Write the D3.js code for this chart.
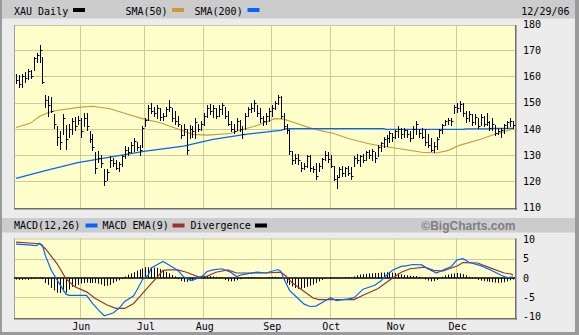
<!DOCTYPE html>
<html><head><meta charset="utf-8">
<script src="https://cdn.jsdelivr.net/npm/d3@7"></script>
<style>body{margin:0;background:#ececec}svg{display:block}</style>
</head><body><svg id="c" width="579" height="335"></svg>
<script>
// ---------- DATA ----------
const monthNames = ["May","Jun","Jul","Aug","Sep","Oct","Nov","Dec"];
const monthNums  = ["05","06","07","08","09","10","11","12"];
const tradingDays = [
 [1,2,3,4,5,8,9,10,11,12,15,16,17,18,19,22,23,24,25,26,30,31],
 [1,2,5,6,7,8,9,12,13,14,15,16,19,20,21,22,23,26,27,28,29,30],
 [3,5,6,7,10,11,12,13,14,17,18,19,20,21,24,25,26,27,28,31],
 [1,2,3,4,7,8,9,10,11,14,15,16,17,18,21,22,23,24,25,28,29,30,31],
 [1,5,6,7,8,11,12,13,14,15,18,19,20,21,22,25,26,27,28,29],
 [2,3,4,5,6,9,10,11,12,13,16,17,18,19,20,23,24,25,26,27,30,31],
 [1,2,3,6,7,8,9,10,13,14,15,16,17,20,21,22,24,27,28,29,30],
 [1,4,5,6,7,8,11,12,13,14,15,18,19,20,21,22,26,27,28,29]
];
const high = [
 161,160.5,161,161.5,163,162.5,167.5,169,172,167.5,153,152.5,152,145.5,141,139,145.5,141.5,142,144,144.5,145,
 144,146,146,139,138,131,131.5,130,124.5,124.5,129.5,129,128,127.5,130,133.5,133,135,136.5,135,134,141,
 144,149,150,148.5,149,148,146,148.5,151,148,147,145,141.6,142,140,141.6,141,144,142,143,
 146,149,149.5,149,148,149,150,148.5,147,143,142,144,143.5,141,146,148.5,150,151,149,148,145,146,148,
 149,150.5,153,152.5,146,142,140,131.5,130.5,130.5,127.5,127,130,130,126,127,127,129,131.5,131,
 130,126,122.5,125.5,126,125.5,126,125.5,129.5,130.5,130,130.5,131.5,132,132.5,131,134,135,137,137.5,139,138.5,
 139.5,141,140.5,140.5,139.5,139,141,143,140,140.5,140,138,136.5,135,137,140,142,143.5,144,144,149,
 150,150.5,150,147,147,145.5,145.5,144,145.5,145,146,143,144,141.5,140.5,140.5,142,143,144,143
];
const low = [
 157.5,156,156,158,159,159.5,162.5,165.5,165.5,157.5,148.5,145,146.5,140.5,134,132.5,138,132.5,137,138,139.5,142,
 137,141,139.5,135,132,123,127.5,125.5,118.5,120.5,125.5,126,124.5,124,126,129,130,131,131.5,132,130,133,
 141,143.5,146,145,144,143.5,143.5,145,146.7,143,142,141,136.5,137.5,130.5,136.5,137,136.5,139,139.5,
 141.5,144.5,145.5,144.5,144,145,145.5,144,141.5,139,138.5,139.5,139,136.5,140,145,146.5,147,145,142.5,141.5,142,143,
 145,147.5,149.5,144,140,138.5,130.5,126.5,127,126.5,124,124.5,125.5,124,123.5,121,124,125,128,127.5,
 125.5,120.5,117.5,121.5,122,122,122.5,121,126,127,126,127.5,128,129,128,127.5,129.5,131.5,133,133.5,135,135.5,
 136.5,137,136.5,137,137,135.5,136.5,138,137,136.5,134,133,131.5,131,132.5,137,138.5,141.5,142,141.5,146,
 146.5,147,145,142.5,143,141.5,142,140.5,141.5,141,141.5,139.5,139.5,137.5,138,137,138.5,140.5,141,140.5
];
const close = [
 158.5,157,160,159.5,162,160,167,168,170,158,151,149,147,142,137,135,144,136,140,143,141,143.5,
 139,144,141,136,133,125,129,127,120,123.5,128,127,125,126.5,129.5,132,131,134,135.5,133,132,140.5,
 143.5,148,147,146,148,144.5,145,147.5,148.5,144,143,142,137.5,140,132,140,139,142.5,140,142,
 145,148,147,148,145,147.5,149,145,142,140,139,143,140,138,145,147.5,148,150,146,144,143,145,147,
 148,150,152,145,141,139.5,131.5,128,129,128,125,126,129.5,125,124.5,122,126,128.5,130,128.5,
 126,121,121.5,124.5,123,125,123,122,129,128,129.5,128,131,130,131.5,129,133,134.5,136,136.5,138.5,137,
 139,140,138,139.5,138,136.5,140,142,138.5,137,135,134,132,133.5,136,139.5,141.5,143,143.5,143,148.5,
 148,149.5,146,144,145.5,142.5,144.5,141,144.5,142,142.5,140.5,142,138.5,139,139.5,141.5,142.5,143,141.5
];
// moving averages at these trading-day positions
const sma50Day = [0,5,8,12,15,22,26,32,38,43,49,56,60,65,73,76,82,88,91,95,101,108,113,120,127,131,138,143,147,151,158,163,169];
const sma50Val = [140.5,142.2,144.8,146.6,147.2,148.3,148.6,147.7,145.6,143.9,142.3,139.6,137.9,137.6,138.2,139.4,141.3,143.9,143.7,142.2,140,138.2,136.3,134.3,133,132.3,131.1,130.8,131.8,133.8,136,138,139.9];
const sma200Day = [0,10,21,33,44,57,67,78,90,92,125,126,152,153,161,162,169];
const sma200Val = [121.1,124.1,127.1,129.4,131.5,133.4,136,137.9,139.4,140.1,140.1,139.8,139.8,140,140,140.2,140.2];
const macdDay = [0,4,7,8,9,10,12,15,17,18,24,26,28,30,33,35,37,40,41,43,45,46,49,50,52,55,57,59,60,63,65,67,70,73,75,77,82,85,89,90,91,93,96,98,100,102,105,107,109,113,115,118,122,124,126,128,131,133,135,138,140,143,145,148,150,152,154,158,161,165,167,169];
const macdVal = [8.8,8.6,8.4,9.0,8.5,5.8,2.0,-1.8,-4.2,-4.5,-4.5,-6.6,-8.3,-9.8,-9.1,-7.9,-6.1,-4.6,-3.3,-0.4,0.8,2.6,3.9,4.3,3.4,2.0,0.3,-0.5,-0.6,0.3,1.7,2.1,2.4,1.5,0.4,0.9,1.5,1.3,2.2,1.8,0,-3.2,-5.4,-6.8,-7.4,-7.3,-6.0,-5.1,-5.9,-5.4,-5.1,-2.9,-1.9,-0.8,0.7,2.0,3.0,3.2,3.5,3.4,2.4,1.3,2.0,3.0,4.7,5.0,4.1,3.2,2.2,0.7,0.1,0.3];
const emaDay = [0,8,10,14,17,20,24,27,31,34,37,40,42,45,47,50,52,55,58,62,65,68,72,75,81,85,90,92,93,94,98,101,103,113,115,118,123,127,131,134,139,142,145,150,152,157,161,166,168,169];
const emaVal = [9.3,8.9,7.6,3.7,-0.2,-2.3,-3.6,-5.3,-7.0,-7.9,-7.9,-6.6,-4.9,-2.3,-0.6,2.0,2.1,2.1,1.5,0.3,0.5,1.5,2.1,1.3,1.3,1.3,1.5,0.4,-0.6,-1.3,-3.5,-5.2,-5.6,-5.6,-5.6,-4.5,-2.8,-0.6,1.5,2.4,2.8,2.0,1.8,3.1,4.0,3.9,2.7,1.3,1.1,0.8];
const divergence = [
 -0.4,-0.5,-0.5,-0.4,-0.5,-0.3,-0.2,0.1,0.2,-0.3,
 -1.3,-1.8,-2.6,-3.2,-3.8,-3.9,-3.5,-3.8,
 -3.0,-2.3,-2.2,-1.8,-1.4,
 -1.3,-1.2,-1.3,-1.3,-1.3,-1.5,-1.7,-2.1,
 -2.0,-1.8,-1.3,-0.9,-0.6,-0.2,
 0.4,0.9,1.2,1.5,1.9,2.2,2.5,2.8,2.8,2.8,2.7,
 2.6,2.3,2.0,1.6,1.2,0.8,0.4,
 -0.3,-0.8,-1.0,-1.0,-0.8,-0.5,-0.2,
 0.1,0.3,0.4,0.5,0.5,0.4,0.3,0.2,0.1,
 -0.5,-0.8,-0.9,-0.8,-0.6,-0.3,
 -0.1,0.1,0.2,0.3,0.2,0.1,0.1,0.0,0.1,0.2,0.3,0.3,0.2,0.1,
 -0.6,-1.3,-1.8,-2.2,-2.6,-2.8,-2.8,-2.6,-2.3,-2.0,-1.7,-1.3,-0.9,-0.5,
 -0.2,0.0,0.2,0.1,-0.2,0.1,0.1,0.2,0.2,
 0.2,0.4,0.7,0.9,1.0,1.1,1.2,1.2,1.3,1.3,1.4,1.4,1.5,1.5,1.4,1.3,1.2,1.0,0.8,0.7,0.6,0.5,0.5,0.3,0.0,-0.4,-0.7,-0.9,-0.8,-0.5,-0.1,0.3,0.7,0.9,1.1,1.2,1.3,1.2,1.0,0.7,0.3,0.1,-0.2,-0.5,-0.7,-0.8,-0.9,-1.0,-1.1,-1.2,-1.3,-1.2,-1.1,-0.9,-0.6,-0.4
];
const priceTicks = [110,120,130,140,150,160,170,180];
const macdTicks = [-10,-5,0,5,10];
const lastDateLabel = "12/29/06";

// ---------- BUILD ----------
const dates = [];
const monthStart = [];
tradingDays.forEach((days, m) => {
  monthStart.push(dates.length);
  days.forEach(d => dates.push("2006-" + monthNums[m] + "-" + String(d).padStart(2, "0")));
});
const bars = dates.map((d, i) => ({date: d, h: high[i], l: low[i], c: close[i], dv: divergence[i]}));

const svg = d3.select("#c");
const mono = "DejaVu Sans Mono, monospace";
const L = 14, R = 515;
const x = d3.scalePoint().domain(dates).range([16, 513]);
const yP = d3.scaleLinear().domain([110, 180]).range([207.5, 24]);
const yM = d3.scaleLinear().domain([-10, 10]).range([316.5, 239.5]);
const px = d => Math.round(x(d)) + 0.5;

// frame
svg.append("rect").attr("x",0).attr("y",0).attr("width",579).attr("height",335).attr("fill","#ececec");
svg.append("rect").attr("x",0).attr("y",0).attr("width",2).attr("height",335).attr("fill","#9a9a9a");
svg.append("rect").attr("x",575).attr("y",0).attr("width",4).attr("height",335).attr("fill","#9a9a9a");
svg.append("rect").attr("x",0).attr("y",332).attr("width",579).attr("height",3).attr("fill","#9a9a9a");
// header bands
svg.append("rect").attr("x",2).attr("y",0).attr("width",573).attr("height",18.5).attr("fill","#cccccc");
svg.append("rect").attr("x",2).attr("y",218).attr("width",573).attr("height",14.5).attr("fill","#cccccc");

// legend texts
function txt(t, xx, yy, opts = {}) {
  return svg.append("text").attr("x", xx).attr("y", yy).text(t)
    .attr("font-family", opts.family || mono).attr("font-size", opts.size || 10)
    .attr("fill", opts.fill || "#000").attr("text-anchor", opts.anchor || "start")
    .attr("font-weight", opts.weight || "normal");
}
function swatch(xx, yy, col) {
  svg.append("rect").attr("x", xx).attr("y", yy).attr("width", 12).attr("height", 4).attr("fill", col);
}
txt("XAU Daily", 14, 14.5); swatch(73, 8, "#000");
txt("SMA(50)", 125.5, 14.5); swatch(172, 8, "#cc9933");
txt("SMA(200)", 194.5, 14.5); swatch(247.5, 8, "#0066ff");
txt(lastDateLabel, 569.5, 14.5, {anchor: "end"});

txt("MACD(12,26)", 14, 229); swatch(85.5, 223.5, "#0066ff");
txt("MACD EMA(9)", 102.5, 229); swatch(172.5, 223.5, "#993333");
txt("Divergence", 190.5, 229); swatch(255, 223.5, "#000");
txt("\u00a9BigCharts.com", 515.5, 229.5, {family: "Liberation Sans, Arial, sans-serif", size: 12, weight: "bold", fill: "#7f7f7f", anchor: "end"});

// plot panels
function panel(y0, y1) {
  svg.append("rect").attr("x", L).attr("y", y0).attr("width", R - L).attr("height", y1 - y0).attr("fill", "#ffffcc");
}
panel(25, 208);
panel(238.5, 318);

const grid = "#cccc99";
const gx = monthStart.slice(1).map(i => Math.round(x(dates[i])) - 0.5);
// vertical gridlines
[[25, 208], [238.5, 318]].forEach(([a, b]) => {
  svg.append("g").selectAll("line").data(gx).join("line")
    .attr("x1", d => d).attr("x2", d => d).attr("y1", a).attr("y2", b)
    .attr("stroke", grid).attr("stroke-width", 1);
});
// horizontal gridlines
svg.append("g").selectAll("line").data(priceTicks.filter(t => t > 110 && t < 180)).join("line")
  .attr("x1", L).attr("x2", R).attr("y1", d => Math.round(yP(d)) + 0.5).attr("y2", d => Math.round(yP(d)) + 0.5)
  .attr("stroke", grid);
svg.append("g").selectAll("line").data([-5, 5]).join("line")
  .attr("x1", L).attr("x2", R).attr("y1", d => Math.round(yM(d)) + 0.5).attr("y2", d => Math.round(yM(d)) + 0.5)
  .attr("stroke", grid);

// panel borders (3D style)
function borders(y0, y1) {
  svg.append("line").attr("x1", L).attr("x2", R).attr("y1", y0 + 0.5).attr("y2", y0 + 0.5).attr("stroke", "#c8c8a0");
  svg.append("line").attr("x1", L + 0.5).attr("x2", L + 0.5).attr("y1", y0).attr("y2", y1).attr("stroke", "#a0a0a0");
  svg.append("rect").attr("x", L).attr("y", y1).attr("width", R - L + 2).attr("height", 1.5).attr("fill", "#6e6e6e");
  svg.append("rect").attr("x", R).attr("y", y0).attr("width", 1.5).attr("height", y1 - y0 + 1.5).attr("fill", "#6e6e6e");
}
borders(25, 208);
borders(238.5, 318);

// moving averages
const lineP = d3.line().x(d => x(dates[d[0]])).y(d => yP(d[1]));
svg.append("path").attr("d", lineP(sma50Day.map((d, i) => [d, sma50Val[i]])))
  .attr("fill", "none").attr("stroke", "#cc9933").attr("stroke-width", 1.1);
svg.append("path").attr("d", lineP(sma200Day.map((d, i) => [d, sma200Val[i]])))
  .attr("fill", "none").attr("stroke", "#0066ff").attr("stroke-width", 1.3);

// price bars (high-low with close tick)
const gb = svg.append("g").attr("stroke", "#000").attr("stroke-width", 1);
gb.selectAll("line.hl").data(bars).join("line").attr("class", "hl")
  .attr("x1", d => px(d.date)).attr("x2", d => px(d.date))
  .attr("y1", d => Math.round(yP(d.h))).attr("y2", d => Math.round(yP(d.l)) + 1);
gb.selectAll("line.cl").data(bars).join("line").attr("class", "cl")
  .attr("x1", d => px(d.date)).attr("x2", d => px(d.date) + 2)
  .attr("y1", d => Math.round(yP(d.c)) + 0.5).attr("y2", d => Math.round(yP(d.c)) + 0.5);

// MACD panel
const z = yM(0);
svg.append("g").selectAll("line").data(bars).join("line")
  .attr("x1", d => px(d.date)).attr("x2", d => px(d.date))
  .attr("y1", z).attr("y2", d => yM(d.dv)).attr("stroke", "#000").attr("stroke-width", 1);
svg.append("line").attr("x1", L).attr("x2", R).attr("y1", z).attr("y2", z).attr("stroke", "#000").attr("stroke-width", 1.5);
const lineM = d3.line().x(d => x(dates[d[0]])).y(d => yM(d[1]));
svg.append("path").attr("d", lineM(emaDay.map((d, i) => [d, emaVal[i]])))
  .attr("fill", "none").attr("stroke", "#993333").attr("stroke-width", 1.2);
svg.append("path").attr("d", lineM(macdDay.map((d, i) => [d, macdVal[i]])))
  .attr("fill", "none").attr("stroke", "#0066ff").attr("stroke-width", 1.2);

// axes (right side labels)
const axP = svg.append("g").attr("transform", "translate(521,0)")
  .call(d3.axisRight(yP).tickValues(priceTicks).tickSize(0).tickPadding(2).tickFormat(d3.format("d")));
const axM = svg.append("g").attr("transform", "translate(521,0)")
  .call(d3.axisRight(yM).tickValues(macdTicks).tickSize(0).tickPadding(2).tickFormat(d => String(d)));
[axP, axM].forEach(a => {
  a.select(".domain").remove();
  a.selectAll("text").attr("font-family", mono).attr("font-size", 10).attr("fill", "#000");
});
// month labels
const axX = svg.append("g").attr("transform", "translate(0,318)")
  .call(d3.axisBottom(x).tickValues(monthStart.slice(1).map(i => dates[i])).tickSize(0).tickPadding(5)
    .tickFormat(d => monthNames[monthStart.indexOf(dates.indexOf(d))]));
axX.select(".domain").remove();
axX.selectAll("text").attr("font-family", mono).attr("font-size", 10).attr("fill", "#000");
</script></body></html>
